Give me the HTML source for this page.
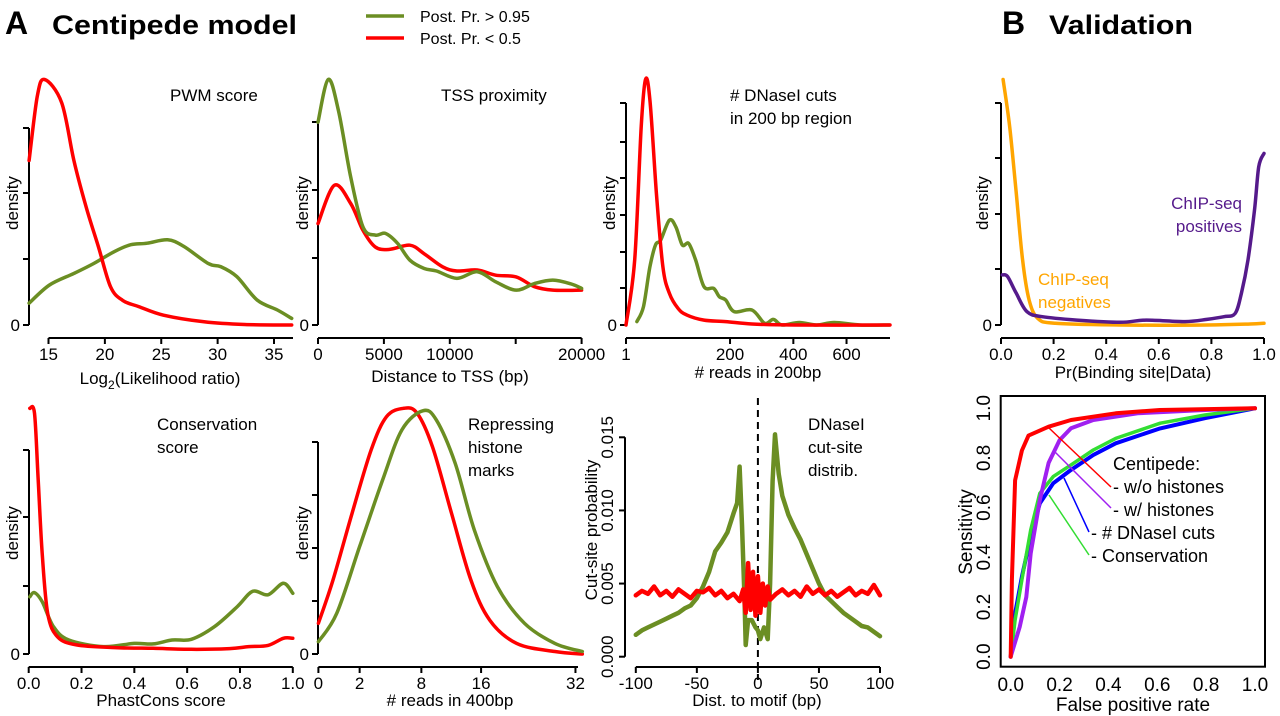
<!DOCTYPE html>
<html><head><meta charset="utf-8">
<style>
html,body{margin:0;padding:0;background:#fff;}
svg{display:block;font-family:"Liberation Sans",Arial,sans-serif;}
text{fill:#000;}
</style></head>
<body>
<svg id="fig" width="1280" height="716" viewBox="0 0 1280 716" xmlns="http://www.w3.org/2000/svg">
<g>
<text x="5" y="34" font-size="32" font-weight="bold">A</text>
<text x="52" y="34" font-size="27" font-weight="bold" textLength="245" lengthAdjust="spacingAndGlyphs">Centipede model</text>
<line x1="366" y1="16" x2="404" y2="16" stroke="#6b8e23" stroke-width="3.5"/>
<text x="420" y="22" font-size="16">Post. Pr. &gt; 0.95</text>
<line x1="366" y1="38" x2="404" y2="38" stroke="#ff0000" stroke-width="3.5"/>
<text x="420" y="44" font-size="16">Post. Pr. &lt; 0.5</text>
<text x="1002" y="34" font-size="32" font-weight="bold">B</text>
<text x="1049" y="34" font-size="27" font-weight="bold" textLength="144" lengthAdjust="spacingAndGlyphs">Validation</text>
</g>
<g id="plots"></g>
</svg>
<script>
// ---- data ----
const pwmRedX=[13.28,14.0,14.65,16.17,17.25,18.34,19.42,20.5,21.58,23.0,25.2,28.8,32.4,36.57];
const pwmRedY=[0.67,0.93,1.0,0.905,0.67,0.48,0.32,0.156,0.10,0.075,0.04,0.013,0.002,0.0];
const pwmGreenX=[13.28,15.09,17.25,18.99,20.87,22.3,23.75,25.56,27.0,29.18,30.26,31.7,33.5,35.3,36.57];
const pwmGreenY=[0.089,0.163,0.21,0.25,0.30,0.327,0.333,0.347,0.32,0.25,0.238,0.197,0.102,0.061,0.027];
const tssGreenX=[0,775,1550,2480,3410,4340,5115,6045,6975,8060,8990,10540,12090,13485,15035,16430,17825,19220,20000];
const tssGreenY=[0.826,1.0,0.874,0.603,0.40,0.366,0.373,0.332,0.264,0.23,0.22,0.19,0.217,0.176,0.142,0.169,0.183,0.167,0.149];
const tssRedX=[0,1240,2480,3410,4340,5425,6975,8060,9455,10540,12090,13485,15035,16430,17825,20000];
const tssRedY=[0.413,0.569,0.495,0.386,0.318,0.308,0.325,0.29,0.237,0.22,0.224,0.203,0.196,0.156,0.142,0.142];
const cutsRedX=[1,7.4,14.3,19.6,25.6,35.3,45.9,57.5,74.1,92,132,188,264,405,782];
const cutsRedY=[0.0,0.265,0.807,1.0,0.916,0.536,0.237,0.129,0.068,0.041,0.02,0.014,0.004,0.0,0.0];
const cutsGreenX=[9.6,17,25.6,33.9,42.2,57.5,69.8,83,96.7,112,132,156,171,188,212,264,304,332,361,421,484,551,655,780];
const cutsGreenY=[0.014,0.075,0.237,0.326,0.346,0.427,0.40,0.326,0.332,0.265,0.156,0.149,0.115,0.102,0.054,0.061,0.007,0.023,0.0,0.01,0.0,0.01,0.0,0.0];
const chipNegX=[0.008,0.033,0.058,0.082,0.107,0.14,0.206,0.453,0.783,0.947,1.0];
const chipNegY=[1.0,0.807,0.536,0.265,0.102,0.027,0.007,0.0,0.0,0.004,0.007];
const chipPosX=[0.005,0.025,0.058,0.099,0.157,0.288,0.453,0.552,0.70,0.783,0.848,0.89,0.914,0.939,0.964,0.98,1.0];
const chipPosY=[0.204,0.197,0.129,0.054,0.034,0.020,0.011,0.020,0.014,0.023,0.034,0.047,0.129,0.265,0.468,0.644,0.699];
const consRedX=[0.004,0.022,0.036,0.051,0.072,0.109,0.181,0.326,0.471,0.616,0.761,0.833,0.906,0.964,1.0];
const consRedY=[1.0,0.98,0.708,0.409,0.165,0.07,0.037,0.026,0.023,0.019,0.022,0.03,0.035,0.064,0.064];
const consGreenX=[0.004,0.022,0.051,0.094,0.152,0.283,0.399,0.471,0.543,0.616,0.703,0.79,0.848,0.906,0.964,1.0];
const consGreenY=[0.233,0.25,0.213,0.111,0.057,0.03,0.043,0.041,0.057,0.06,0.111,0.193,0.255,0.241,0.288,0.247];
const histRedX=[0,0.414,1.47,2.9,4.28,6.02,7.5,9.34,11.8,14.5,17.3,21.6,28.2,33.3];
const histRedY=[0.125,0.301,0.573,0.83,0.966,1.0,0.98,0.844,0.573,0.301,0.138,0.043,0.01,0.0];
const histGreenX=[0,0.589,2.0,3.91,5.82,8.17,9.83,12.3,15.0,18.5,22.9,28.2,33.3];
const histGreenY=[0.05,0.166,0.437,0.708,0.912,0.99,0.952,0.776,0.505,0.274,0.125,0.043,0.01];
const cutGreenX=[-100,-95,-90,-85,-80,-75,-70,-65,-60,-55,-50,-45,-40,-35,-30,-25,-20,-17,-15,-13,-11,-10,-8,-5,-2,0,2,5,8,10,12,14,17,20,25,30,35,40,45,50,55,60,65,70,75,80,85,90,95,100];
const cutGreenY=[0.0015,0.0018,0.0020,0.0022,0.0024,0.0026,0.0028,0.0030,0.0033,0.0035,0.0040,0.0048,0.0058,0.0072,0.0078,0.0085,0.0098,0.0105,0.0130,0.0090,0.0040,0.0008,0.0025,0.0025,0.0020,0.0018,0.0012,0.0020,0.0012,0.0050,0.0120,0.0152,0.0125,0.0110,0.0097,0.0088,0.0080,0.0070,0.0060,0.0050,0.0042,0.0038,0.0034,0.0030,0.0027,0.0024,0.0021,0.0020,0.0017,0.0014];
const cutRedX=[-100,-95,-90,-85,-80,-75,-70,-65,-60,-55,-50,-45,-40,-35,-30,-25,-20,-15,-12,-10,-8,-6,-4,-2,0,2,4,6,8,10,15,20,25,30,35,40,45,50,55,60,65,70,75,80,85,90,95,100];
const cutRedY=[0.0042,0.0045,0.0043,0.0048,0.0042,0.0045,0.0041,0.0046,0.0043,0.0040,0.0045,0.0044,0.0047,0.0042,0.0045,0.0040,0.0043,0.0038,0.0046,0.0030,0.0064,0.0032,0.0058,0.0028,0.0055,0.0030,0.0050,0.0035,0.0048,0.0039,0.0043,0.0046,0.0042,0.0045,0.0041,0.0048,0.0043,0.0046,0.0042,0.0045,0.0041,0.0044,0.0047,0.0042,0.0045,0.0043,0.0049,0.0042];
const rocRedX=[0,0.005,0.018,0.046,0.073,0.155,0.247,0.43,0.61,1.0];
const rocRedY=[0,0.31,0.71,0.83,0.89,0.926,0.953,0.98,0.993,1.0];
const rocPurpleX=[0,0.037,0.064,0.082,0.119,0.155,0.2,0.247,0.338,0.52,0.795,1.0];
const rocPurpleY=[0,0.12,0.24,0.416,0.63,0.78,0.872,0.92,0.953,0.98,0.993,1.0];
const rocGreenX=[0,0.018,0.046,0.082,0.119,0.174,0.247,0.338,0.43,0.612,0.795,1.0];
const rocGreenY=[0,0.148,0.31,0.51,0.658,0.725,0.772,0.832,0.879,0.94,0.973,1.0];
const rocBlueX=[0,0.018,0.046,0.082,0.119,0.174,0.247,0.338,0.43,0.612,0.795,1.0];
const rocBlueY=[0,0.174,0.322,0.483,0.617,0.698,0.752,0.812,0.859,0.919,0.96,1.0];
const pwmTicks=[15,20,25,30,35];
const tssTicks=[0,5000,10000,15000,20000];
const tssTickLabels=["0","5000","10000","","20000"];
const cutsTicks=[1,200,400,600];
const chipTicks=[0,0.2,0.4,0.6,0.8,1.0];
const consTicks=[0,0.2,0.4,0.6,0.8,1.0];
const histTicks=[0,2,8,16,32];
const cutPosTicks=[-100,-50,0,50,100];
const cutProbTicks=[0,0.005,0.010,0.015];
const cutProbTickLabels=["0.000","0.005","0.010","0.015"];
const rocTicks=[0,0.2,0.4,0.6,0.8,1.0];

// ---- helpers ----
const NS="http://www.w3.org/2000/svg";
const root=document.getElementById('plots');
function mk(tag,attrs,parent){const e=document.createElementNS(NS,tag);for(const k in attrs)e.setAttribute(k,attrs[k]);(parent||root).appendChild(e);return e;}
function lin(d0,d1,r0,r1){return v=>r0+(v-d0)/(d1-d0)*(r1-r0);}
function smoothPath(pts){
  let d="M"+pts[0][0].toFixed(1)+","+pts[0][1].toFixed(1);
  for(let i=0;i<pts.length-1;i++){
    const p0=pts[i-1]||pts[i],p1=pts[i],p2=pts[i+1],p3=pts[i+2]||p2;
    const c1=[p1[0]+(p2[0]-p0[0])/6,p1[1]+(p2[1]-p0[1])/6];
    const c2=[p2[0]-(p3[0]-p1[0])/6,p2[1]-(p3[1]-p1[1])/6];
    d+=" C"+c1[0].toFixed(1)+","+c1[1].toFixed(1)+" "+c2[0].toFixed(1)+","+c2[1].toFixed(1)+" "+p2[0].toFixed(1)+","+p2[1].toFixed(1);
  }
  return d;
}
function series(xs,ys,sx,sy,color,name,smooth,w){
  const pts=xs.map((x,i)=>[sx(x),sy(ys[i])]);
  const d=smooth?smoothPath(pts):"M"+pts.map(p=>p[0].toFixed(1)+","+p[1].toFixed(1)).join(" L");
  const e=mk('path',{d:d,fill:'none',stroke:color,'stroke-width':w||3.5,'stroke-linejoin':'round','stroke-linecap':'round'});
  
  
  return e;
}
function txt(x,y,s,opts){
  const e=mk('text',Object.assign({x:x,y:y,'font-size':17},opts||{}));e.textContent=s;return e;
}
function xAxis(ticks,labels,sx,y,x0,x1,name){
  const g=mk('g',{});
  
  
  mk('line',{x1:x0,y1:y,x2:x1,y2:y,stroke:'#000','stroke-width':2},g);
  ticks.forEach((t,i)=>{const x=sx(t);mk('line',{x1:x,y1:y,x2:x,y2:y+6,stroke:'#000','stroke-width':2},g);
    if(labels[i]!==''){const e=mk('text',{x:x,y:y+22,'font-size':17,'text-anchor':'middle'},g);e.textContent=labels[i];}});
}
function densAxis(x,ys,zeroLabel,name){
  const g=mk('g',{});
  
  
  mk('line',{x1:x,y1:Math.min(...ys),x2:x,y2:Math.max(...ys),stroke:'#000','stroke-width':2},g);
  ys.forEach(y=>mk('line',{x1:x-6,y1:y,x2:x,y2:y,stroke:'#000','stroke-width':2},g));
  const z=mk('text',{x:x-9,y:Math.max(...ys)+6,'font-size':17,'text-anchor':'end'},g);z.textContent='0';
}
function vlabel(x,y,s,name,fs){const e=mk('text',{x:0,y:0,'font-size':fs||17,'text-anchor':'middle',transform:`translate(${x},${y}) rotate(-90)`});e.textContent=s;
  return e;}
function label(x,y,s,name,opts){const e=txt(x,y,s,opts);return e;}

const RED="#ff0000",GRN="#6b8e23";

// Panel 1: PWM
{const sx=lin(15,35,48.5,274),sy=lin(0,1,325,79.5);
 densAxis(29,[128,193,259,325],'0','pwm-y-axis');
 xAxis(pwmTicks,pwmTicks.map(String),sx,338,48.5,293,'pwm-x-axis');
 series(pwmGreenX,pwmGreenY,sx,sy,GRN,'pwm-green-curve',true);
 series(pwmRedX,pwmRedY,sx,sy,RED,'pwm-red-curve',true);
 label(170,101,'PWM score','pwm-title');
 vlabel(18,203,'density','pwm-y-title');
 const t=label(160,384,'Log','pwm-x-title',{'text-anchor':'middle'});
 t.innerHTML='Log<tspan font-size="12" dy="5">2</tspan><tspan dy="-5">(Likelihood ratio)</tspan>';}
// Panel 2: TSS
{const sx=lin(0,20000,318,581.6),sy=lin(0,1,325,79.5);
 densAxis(318,[122,190,258,325],'0','tss-y-axis');
 xAxis(tssTicks,tssTickLabels,sx,338,318,581.6,'tss-x-axis');
 series(tssRedX,tssRedY,sx,sy,RED,'tss-red-curve',true);
 series(tssGreenX,tssGreenY,sx,sy,GRN,'tss-green-curve',true);
 label(441,101,'TSS proximity','tss-title');
 vlabel(308,203,'density','tss-y-title');
 label(450,382,'Distance to TSS (bp)','tss-x-title',{'text-anchor':'middle'});}
// Panel 3: DNase cuts
{const k=3.077,sx=v=>626+k*(Math.pow(v,0.67)-1),sy=lin(0,1,325,79.5);
 densAxis(626,[103,142,178,215,252,288,325],'0','cuts-y-axis');
 xAxis(cutsTicks,cutsTicks.map(String),sx,338,626,890,'cuts-x-axis');
 series(cutsGreenX,cutsGreenY,sx,sy,GRN,'cuts-green-curve',true);
 series(cutsRedX,cutsRedY,sx,sy,RED,'cuts-red-curve',true);
 label(730,101,'# DNaseI cuts','cuts-title-line1');
 label(730,124,'in 200 bp region','cuts-title-line2');
 vlabel(615,203,'density','cuts-y-title');
 label(758,378,'# reads in 200bp','cuts-x-title',{'text-anchor':'middle'});}
// Panel B1: ChIP
{const sx=lin(0,1,1001,1264),sy=lin(0,1,325,79.5);
 densAxis(1001,[103,158,214,269,325],'0','chip-y-axis');
 xAxis(chipTicks,chipTicks.map(v=>v.toFixed(1)),sx,338,1001,1264,'chip-x-axis');
 series(chipNegX,chipNegY,sx,sy,'#ffa500','chip-negatives-curve',true);
 series(chipPosX,chipPosY,sx,sy,'#551a8b','chip-positives-curve',true);
 vlabel(988,203,'density','chip-y-title');
 label(1242,209,'ChIP-seq','chip-pos-label-1',{'text-anchor':'end',style:'fill:#551a8b'});
 label(1242,232,'positives','chip-pos-label-2',{'text-anchor':'end',style:'fill:#551a8b'});
 label(1038,285,'ChIP-seq','chip-neg-label-1',{style:'fill:#ffa500'});
 label(1038,308,'negatives','chip-neg-label-2',{style:'fill:#ffa500'});
 label(1133,378,'Pr(Binding site|Data)','chip-x-title',{'text-anchor':'middle'});}
// Panel 4: Conservation
{const sx=lin(0,1,28.7,292.8),sy=lin(0,1,654,408.3);
 densAxis(29,[450,517,586,654],'0','cons-y-axis');
 xAxis(consTicks,consTicks.map(v=>v.toFixed(1)),sx,667,28.7,292.8,'cons-x-axis');
 series(consGreenX,consGreenY,sx,sy,GRN,'cons-green-curve',true);
 series(consRedX,consRedY,sx,sy,RED,'cons-red-curve',true);
 label(157,430,'Conservation','cons-title-1');label(157,453,'score','cons-title-2');
 vlabel(18,533,'density','cons-y-title');
 label(161,706,'PhastCons score','cons-x-title',{'text-anchor':'middle'});}
// Panel 5: Histones
{const sx=v=>318.4+26.1*Math.pow(v,0.66),sy=lin(0,1,654,408.3);
 densAxis(318,[442,495,548,601,654],'0','hist-y-axis');
 xAxis(histTicks,histTicks.map(String),sx,667,318.4,578,'hist-x-axis');
 series(histRedX,histRedY,sx,sy,RED,'hist-red-curve',true);
 series(histGreenX,histGreenY,sx,sy,GRN,'hist-green-curve',true);
 label(468,430,'Repressing','hist-title-1');label(468,453,'histone','hist-title-2');label(468,476,'marks','hist-title-3');
 vlabel(308,533,'density','hist-y-title');
 label(450,706,'# reads in 400bp','hist-x-title',{'text-anchor':'middle'});}
// Panel 6: cut-site distribution
{const sx=lin(-100,100,635.8,880),sy=lin(0,0.015,656.7,437.3);
 const g=mk('g',{});
 mk('line',{x1:625,y1:sy(0),x2:625,y2:sy(0.015),stroke:'#000','stroke-width':2},g);
 cutProbTicks.forEach((t,i)=>{mk('line',{x1:619,y1:sy(t),x2:625,y2:sy(t),stroke:'#000','stroke-width':2},g);
  const e=mk('text',{x:0,y:0,'font-size':17,'text-anchor':'middle',transform:`translate(613,${sy(t)}) rotate(-90)`},g);e.textContent=cutProbTickLabels[i];});
 xAxis(cutPosTicks,cutPosTicks.map(String),sx,667,635.8,880,'cutsite-x-axis');
 const dl=mk('line',{x1:sx(0),y1:398,x2:sx(0),y2:680,stroke:'#000','stroke-width':2,'stroke-dasharray':'7,5'});
 
 series(cutGreenX,cutGreenY,sx,sy,GRN,'cutsite-green-curve',false,4.5);
 series(cutRedX,cutRedY,sx,sy,RED,'cutsite-red-curve',false,4.5);
 label(808,430,'DNaseI','cutsite-title-1');label(808,453,'cut-site','cutsite-title-2');label(808,476,'distrib.','cutsite-title-3');
 vlabel(597,530,'Cut-site probability','cutsite-y-title');
 label(757,706,'Dist. to motif (bp)','cutsite-x-title',{'text-anchor':'middle'});}
// Panel B2: ROC
{const sx=lin(0,1,1010.7,1255),sy=lin(0,1,656.7,408.3);
 const b=mk('rect',{x:1000.7,y:396,width:264.3,height:270.7,fill:'none',stroke:'#000','stroke-width':2});
 
 const gx=mk('g',{});
 rocTicks.forEach(t=>{const e=mk('text',{x:sx(t),y:691,'font-size':19,'text-anchor':'middle'},gx);e.textContent=t.toFixed(1);});
 const g=mk('g',{});
 rocTicks.forEach(t=>{const e=mk('text',{x:0,y:0,'font-size':19,'text-anchor':'middle',transform:`translate(990,${sy(t)}) rotate(-90)`},g);e.textContent=t.toFixed(1);});
 series(rocBlueX,rocBlueY,sx,sy,'#0000ff','roc-dnase-curve',false,4);
 series(rocGreenX,rocGreenY,sx,sy,'#33dd33','roc-conservation-curve',false,3.5);
 series(rocPurpleX,rocPurpleY,sx,sy,'#a020f0','roc-with-histones-curve',false,4);
 series(rocRedX,rocRedY,sx,sy,RED,'roc-without-histones-curve',false,4);
 [[1049,428,1111,487,RED],[1055,452,1111,508,'#a020f0'],[1064,478,1089,532,'#0000ff'],[1049,495,1089,555,'#33dd33']].forEach((l,i)=>{
  const e=mk('line',{x1:l[0],y1:l[1],x2:l[2],y2:l[3],stroke:l[4],'stroke-width':1.5});
  });
 label(1113,470,'Centipede:','roc-legend-title',{'font-size':18});
 label(1113,493,'- w/o histones','roc-legend-without',{'font-size':18});
 label(1113,516,'- w/ histones','roc-legend-with',{'font-size':18});
 label(1091,539,'- # DNaseI cuts','roc-legend-dnase',{'font-size':18});
 label(1091,562,'- Conservation','roc-legend-conservation',{'font-size':18});
 vlabel(972,532,'Sensitivity','roc-y-title',19);
 label(1133,711,'False positive rate','roc-x-title',{'text-anchor':'middle','font-size':19});}
</script>
</body></html>
